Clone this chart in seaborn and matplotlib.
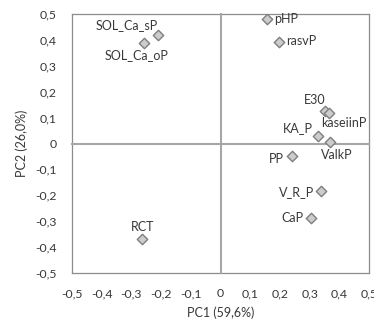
import matplotlib
matplotlib.use("Agg")
import matplotlib.pyplot as plt
import seaborn as sns
import pandas as pd
import numpy as np

labels = ["pHP", "rasvP", "SOL_Ca_sP", "SOL_Ca_oP", "E30", "kaseiinP",
          "KA_P", "ValkP", "PP", "V_R_P", "CaP", "RCT"]
pc1 = [0.157, 0.196, -0.211, -0.258, 0.351, 0.366, 0.329, 0.370, 0.242, 0.337, 0.304, -0.263]
pc2 = [0.480, 0.390, 0.419, 0.387, 0.125, 0.118, 0.030, 0.005, -0.047, -0.182, -0.286, -0.370]
ticks = [-0.5, -0.4, -0.3, -0.2, -0.1, 0.0, 0.1, 0.2, 0.3, 0.4, 0.5]
tick_labels = ["-0,5", "-0,4", "-0,3", "-0,2", "-0,1", "0", "0,1", "0,2", "0,3", "0,4", "0,5"]

# label placement (offset pixels, ha, va)
placement = {
    "pHP": (7, 0, "left", "center"),
    "rasvP": (7, 1, "left", "center"),
    "SOL_Ca_sP": (0, 4, "right", "bottom"),
    "SOL_Ca_oP": (-7, -6, "center", "top"),
    "E30": (1, 5, "right", "bottom"),
    "kaseiinP": (-8, -4, "left", "top"),
    "KA_P": (-5, 2, "right", "bottom"),
    "ValkP": (6, -7, "center", "top"),
    "PP": (-8, -3, "right", "center"),
    "V_R_P": (-6, -1, "right", "center"),
    "CaP": (-7, 0, "right", "center"),
    "RCT": (0, 6, "center", "bottom"),
}

df = pd.DataFrame({"label": labels, "PC1": pc1, "PC2": pc2})

sns.set_style("white")
plt.rcParams["font.family"] = ["Lato", "DejaVu Sans"]
txt = "#383838"

fig = plt.figure(figsize=(3.74, 3.22), dpi=100)
rect = [72 / 374, 49 / 322, 297 / 374, 259 / 322]

# overlay frame axes with outside tick labels
axf = fig.add_axes(rect)
axf.set_xlim(-0.5, 0.5)
axf.set_ylim(-0.5, 0.5)
axf.set_xticks(ticks)
axf.set_xticklabels(tick_labels)
axf.set_yticks(ticks)
axf.set_yticklabels(tick_labels)
axf.tick_params(length=0, pad=11, labelsize=8.8, colors=txt)
for s in axf.spines.values():
    s.set_color("#8c8c8c")
    s.set_linewidth(0.9)
    s.set_visible(True)
axf.set_xlabel("PC1 (59,6%)", fontsize=9, color=txt, labelpad=5)
axf.set_ylabel("PC2 (26,0%)", fontsize=9, color=txt, labelpad=5)
axf.patch.set_visible(False)

# main axes with spines at zero
ax = fig.add_axes(rect)
ax.patch.set_visible(False)
sns.scatterplot(data=df, x="PC1", y="PC2", ax=ax, marker="D", s=28,
                color="#cccccc", edgecolor="#7f7f7f", linewidth=1.0, zorder=5)
ax.set_xlim(-0.5, 0.5)
ax.set_ylim(-0.5, 0.5)
ax.spines["left"].set_position("zero")
ax.spines["bottom"].set_position("zero")
ax.spines["top"].set_visible(False)
ax.spines["right"].set_visible(False)
for k in ["left", "bottom"]:
    ax.spines[k].set_color("#a6a6a6")
    ax.spines[k].set_linewidth(1.5)
inner = [t for t in ticks if abs(t) > 1e-9 and abs(t) < 0.5]
ax.set_xticks(inner)
ax.set_yticks(inner)
ax.tick_params(direction="inout", length=9, width=1.0, color="#a6a6a6",
               labelbottom=False, labelleft=False)
ax.set_xlabel("")
ax.set_ylabel("")

for lab, x, y in zip(labels, pc1, pc2):
    dx, dy, ha, va = placement[lab]
    ax.annotate(lab, (x, y), xytext=(dx, dy), textcoords="offset pixels",
                ha=ha, va=va, fontsize=9, color=txt, zorder=6)

fig.savefig("out.png", dpi=100)
